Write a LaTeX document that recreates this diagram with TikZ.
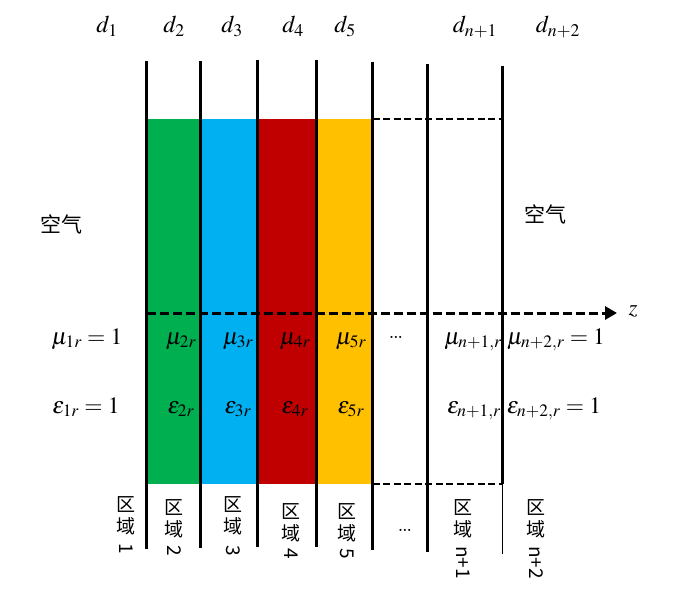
\documentclass[tikz,border=0pt]{standalone}
\usepackage{mathptmx}
\usepackage[no-math]{fontspec}
\newfontfamily\cjk{Noto Sans CJK SC}
\usetikzlibrary{arrows.meta}
\definecolor{lgreen}{HTML}{00B050}
\definecolor{lblue}{HTML}{00B0F0}
\definecolor{lred}{HTML}{C00000}
\definecolor{lyellow}{HTML}{FFC000}
\tikzset{
  wall/.style={line width=3pt},
  thinwall/.style={line width=1.2pt},
  edge/.style={line width=2pt, dash pattern=on 7pt off 3.5pt},
  zaxis/.style={line width=3pt, dash pattern=on 9pt off 4pt, -{Triangle[length=12pt,width=13pt]}},
  ml/.style={anchor=base, inner sep=0pt, font=\fontsize{23.5}{27}\selectfont},
  dl/.style={anchor=base, inner sep=0pt, font=\fontsize{24}{28}\selectfont},
  air/.style={inner sep=0pt, font=\cjk\fontsize{21}{24}\selectfont},
  reg/.style={inner sep=0pt, align=center, font=\cjk\fontsize{19}{22}\selectfont},
  regnum/.style={inner sep=0pt, anchor=west, rotate=-90, font=\cjk\fontsize{19}{22}\selectfont},
  dots/.style={inner sep=0pt, font=\fontsize{26}{28}\selectfont}
}
\begin{document}
\begin{tikzpicture}[x=1pt,y=-1pt]
\useasboundingbox (0,0) rectangle (676,609);
% wall coordinates
\coordinate (t1) at (146.5,61.5); \coordinate (b1) at (146.5,549);
\coordinate (t2) at (200.5,61.5); \coordinate (b2) at (200.5,548);
\coordinate (t3) at (257,60);    \coordinate (b3) at (257,547);
\coordinate (t4) at (316,60);    \coordinate (b4) at (316,547);
\coordinate (t5) at (372.5,62);  \coordinate (b5) at (372.5,550);
\coordinate (t6) at (427.5,64);  \coordinate (b6) at (427.5,552);
\coordinate (t7) at (502.5,66);  \coordinate (m7) at (502.5,484); \coordinate (b7) at (502.5,554);
% layer fills
\fill[lgreen]  (146.5,119) rectangle (200.5,484);
\fill[lblue]   (200.5,119) rectangle (257,484);
\fill[lred]    (257,119)   rectangle (316,484);
\fill[lyellow] (316,119)   rectangle (372.5,484);
% dashed edges of the open region
\coordinate (u5) at (372.5,119); \coordinate (u7) at (502.5,119);
\coordinate (l5) at (372.5,484); \coordinate (l7) at (502.5,484);
\draw[edge] (u5) -- (u7);
\draw[edge] (l5) -- (l7);
% z axis
\coordinate (zs) at (146.5,313); \coordinate (ze) at (617,313);
\draw[zaxis] (zs) -- (ze);
% walls
\draw[wall] (t1) -- (b1);
\draw[wall] (t2) -- (b2);
\draw[wall] (t3) -- (b3);
\draw[wall] (t4) -- (b4);
\draw[wall] (t5) -- (b5);
\draw[wall] (t6) -- (b6);
\draw[wall] (t7) -- (m7);
\draw[thinwall] (m7) -- (b7);
\node[inner sep=0pt, font=\fontsize{23}{26}\selectfont] (zl) at (633,311) {$z$};
% d labels
\node[dl] (d1) at (107,33) {$d_{1}$};
\node[dl] (d2) at (174,33) {$d_{2}$};
\node[dl] (d3) at (232,33) {$d_{3}$};
\node[dl] (d4) at (293,33) {$d_{4}$};
\node[dl] (d5) at (345,33) {$d_{5}$};
\node[dl] (dn1) at (475,33) {$d_{n+1}$};
\node[dl] (dn2) at (558,33) {$d_{n+2}$};
% air
\node[air] (air1) at (61,224) {空气};
\node[air] (air2) at (545,214) {空气};
% mu row
\node[ml] (mu1) at (87,344) {$\mu_{1r}=1$};
\node[ml] (mu2) at (181,344) {$\mu_{2r}$};
\node[ml] (mu3) at (238,344) {$\mu_{3r}$};
\node[ml] (mu4) at (295,344) {$\mu_{4r}$};
\node[ml] (mu5) at (351,344) {$\mu_{5r}$};
\node[dots] (mud) at (396,337) {\ldots};
\node[ml] (mun1) at (473,344) {$\mu_{n+1,r}$};
\node[ml] (mun2) at (556,344) {$\mu_{n+2,r}=1$};
% epsilon row
\node[ml] (ep1) at (86,413) {$\varepsilon_{1r}=1$};
\node[ml] (ep2) at (181,413) {$\varepsilon_{2r}$};
\node[ml] (ep3) at (238,413) {$\varepsilon_{3r}$};
\node[ml] (ep4) at (295,413) {$\varepsilon_{4r}$};
\node[ml] (ep5) at (351,413) {$\varepsilon_{5r}$};
\node[ml] (epn1) at (474,413) {$\varepsilon_{n+1,r}$};
\node[ml] (epn2) at (554,413) {$\varepsilon_{n+2,r}=1$};
% region labels
\node[reg] (r1) at (126,516) {区\\域};
\node[regnum] (r1n) at (126,543) {1};
\node[reg] (r2) at (174,519) {区\\域};
\node[regnum] (r2n) at (174,545) {2};
\node[reg] (r3) at (233,516) {区\\域};
\node[regnum] (r3n) at (233,545) {3};
\node[reg] (r4) at (291,523) {区\\域};
\node[regnum] (r4n) at (291,548) {4};
\node[reg] (r5) at (347,523) {区\\域};
\node[regnum] (r5n) at (347,548) {5};
\node[dots] (rd) at (405,530) {\ldots};
\node[reg] (rn1) at (463,519) {区\\域};
\node[regnum] (rn1n) at (463,546) {n+1};
\node[reg] (rn2) at (536,519) {区\\域};
\node[regnum] (rn2n) at (536,546) {n+2};
\end{tikzpicture}
\end{document}
